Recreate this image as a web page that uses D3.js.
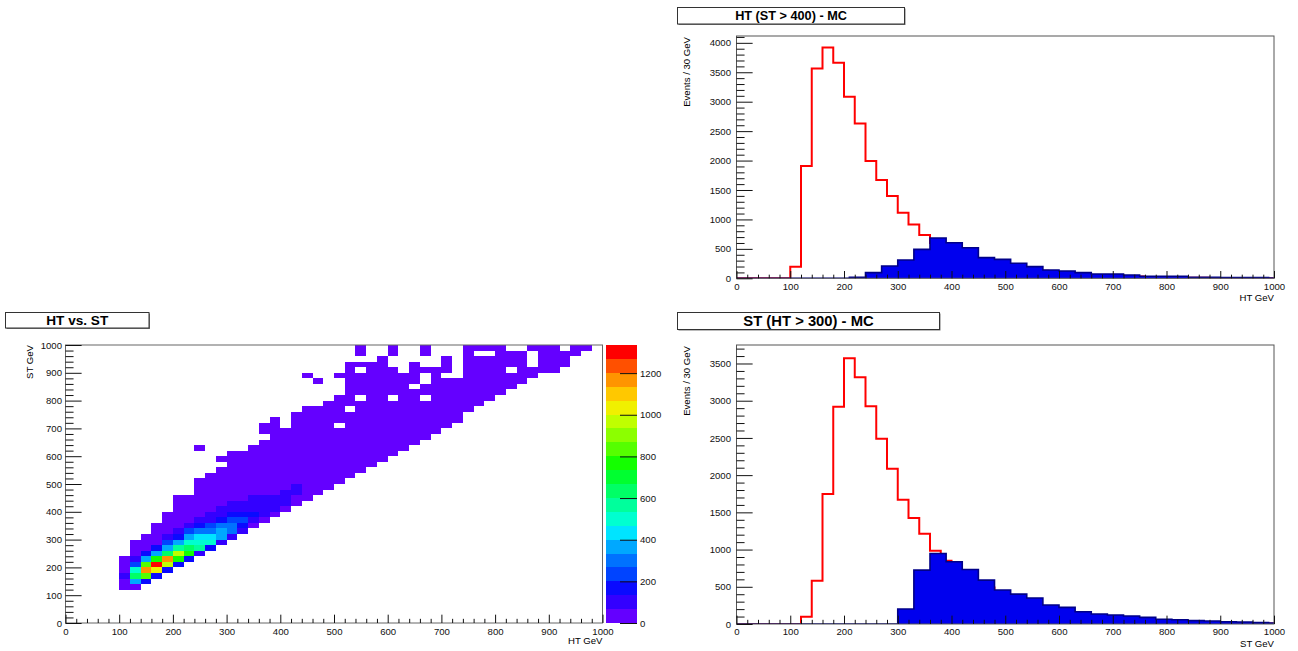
<!DOCTYPE html>
<html>
<head>
<meta charset="utf-8">
<script src="https://cdn.jsdelivr.net/npm/d3@7/dist/d3.min.js"></script>
<style>
  html, body { margin: 0; padding: 0; background: #fff; }
  svg { display: block; }
</style>
</head>
<body>
<svg id="canvas" width="1298" height="651"></svg>
<script>
// ---------------- data ----------------
// HT, all events: 20 GeV bins from 0 to 1000
const htAllBinWidth = 20;
const htAllCounts = [0,0,0,0,0, 198,1906,3563,3920,3660, 3083,2630,1991,1669,1397,
  1114,916,735,600,520, 450,390,330,285,245, 210,180,150,128,108,
  92,78,66,56,48, 40,34,29,24,20, 15,12,10,8,6, 4,3,3,2,2];
// HT with ST > 400: 30 GeV bins from 0
const htCutBinWidth = 30;
const htCutCounts = [0,0,0,0,0,0,0, 17,96,209,311,492,684,605,520,351,322,255,198,141,
  124,96,74,74,57,34,34,34,17,17,11,11,11,6];

// ST, all events: 20 GeV bins
const stAllBinWidth = 20;
const stAllCounts = [0,0,0,0,0,0, 98,581,1747,2918, 3570,3315,2927,2489,2087,
  1671,1425,1211,983,849, 720,640,560,490,420, 360,300,260,220,190,
  160,135,115,100,88, 78,70,62,55,48, 40,35,30,26,22, 18,15,12,10,8];
// ST with HT > 300: 30 GeV bins
const stCutBinWidth = 30;
const stCutCounts = [0,0,0,0,0,0,0,0,0,0, 201,724,947,836,733,590,456,402,349,255,
  223,165,134,121,107,89,63,58,45,40,31,27,18,13];

// HT vs ST map: 20x20 GeV cells. One entry per ST bin, listed from the top
// (ST 980-1000) down to ST 0-20; each entry lists the occupied HT bins.
const mapBinWidth = 20;
const mapRowsTopDown = [
  "27,30,33,37-40,43-45,47-48",
  "27,30,33,37,40-42,44-47",
  "29,35,37-42,44-46",
  "26-29,32,35,37-42,44-46",
  "26,28-30,32-35,37-40,42-45",
  "22,25-32,34,37-43",
  "23,26-32,34-42",
  "26-31,33-41",
  "26-40",
  "25-26,28-29,31-32,34-39",
  "24-38",
  "22-25,27-37",
  "21-36",
  "19,21-36",
  "18-19,21-24,26-35",
  "18-34",
  "19-33",
  "18-32",
  "12,17-31",
  "15-30",
  "14-29",
  "15-28",
  "14-27",
  "13-26",
  "12-25",
  "12-24",
  "12-23",
  "10-22",
  "10-21",
  "10-20",
  "9-19",
  "9-18",
  "8-17",
  "8-16",
  "7-15",
  "6-14",
  "6-13",
  "6-12",
  "5-11",
  "5-10",
  "5-9",
  "5-8",
  "5-7",
  "5-6",
  "", "", "", "", "", ""
];
const mapLowCount = 20;
// denser cells: [HT bin, ST bin, entries]
const mapHotCells = [
  [5,8,100],
  [6,7,370],[6,8,640],[6,9,500],[6,10,230],[6,11,100],
  [7,7,170],[7,8,830],[7,9,1170],[7,10,830],[7,11,370],[7,12,170],
  [8,8,170],[8,9,1030],[8,10,1310],[8,11,770],[8,12,370],[8,13,170],
  [9,9,170],[9,10,970],[9,11,1170],[9,12,640],[9,13,370],[9,14,230],[9,15,100],
  [10,10,170],[10,11,770],[10,12,970],[10,13,570],[10,14,370],[10,15,170],[10,16,100],
  [11,11,170],[11,12,770],[11,13,640],[11,14,500],[11,15,370],[11,16,230],[11,17,100],
  [12,12,100],[12,13,570],[12,14,500],[12,15,430],[12,16,300],[12,17,170],[12,18,100],
  [13,13,170],[13,14,500],[13,15,430],[13,16,300],[13,17,230],[13,18,100],[13,19,100],
  [14,14,100],[14,15,370],[14,16,370],[14,17,300],[14,18,170],[14,19,100],[14,20,100],
  [15,15,100],[15,16,300],[15,17,300],[15,18,230],[15,19,170],[15,20,100],[15,21,100],
  [16,16,100],[16,17,170],[16,18,230],[16,19,170],[16,20,100],[16,21,100],
  [17,18,100],[17,19,170],[17,20,100],[17,21,100],[17,22,100],
  [18,19,100],[18,20,100],[18,21,100],[18,22,100],
  [19,20,100],[19,21,100],[19,22,100],
  [20,21,100],[20,22,100],[20,23,100],
  [21,23,100],[21,24,100]
];
const mapZMax = 1335;
const paletteColours = [
  "#6400ff","#3300ff","#0a0aff","#0044ff","#0072ff","#00a8ff","#00e4ff","#00ffd0",
  "#00ff9c","#00ff66","#00ff30","#14ff00","#55ff00","#8cff00","#c0ff00","#f0f000",
  "#ffc800","#ff9400","#ff5000","#ff0000"
];

const axisRange = [0, 1000];
const xMajorTicks = d3.range(0, 1001, 100);
const xMinorTicks = d3.range(20, 1000, 20).filter(v => v % 100 !== 0);
const htYMajorTicks = d3.range(0, 4001, 500);
const stYMajorTicks = d3.range(0, 3501, 500);
const paletteTicks = d3.range(0, 1201, 200);

// ---------------- drawing ----------------
const FONT = '"Liberation Sans", Arial, Helvetica, sans-serif';
const svg = d3.select('#canvas');
const fmt = d3.format('d');

function titleBox(x, y, w, h, label, size, baseline) {
  const g = svg.append('g');
  g.append('rect').attr('x', x + 1).attr('y', y + 1).attr('width', w).attr('height', h)
    .attr('fill', '#777');
  g.append('rect').attr('x', x).attr('y', y).attr('width', w).attr('height', h)
    .attr('fill', '#fff').attr('stroke', '#333').attr('stroke-width', 1);
  g.append('text').attr('x', x + w / 2).attr('y', baseline).attr('text-anchor', 'middle')
    .attr('font-family', FONT).attr('font-weight', 'bold').attr('font-size', size)
    .attr('fill', '#000').text(label);
}

function xAxisAt(x, yPix, tickLen, pad, size) {
  svg.append('g').attr('transform', `translate(0,${yPix})`)
    .call(d3.axisBottom(x).tickValues(xMinorTicks).tickSize(-tickLen / 2).tickFormat(''))
    .call(g => g.select('.domain').remove())
    .attr('color', '#111');
  svg.append('g').attr('transform', `translate(0,${yPix})`)
    .call(d3.axisBottom(x).tickValues(xMajorTicks).tickSize(-tickLen).tickPadding(pad).tickFormat(fmt))
    .call(g => g.select('.domain').remove())
    .attr('font-family', FONT).attr('font-size', size).attr('color', '#111');
}

function yAxisAt(y, xPix, majors, minors, tickLen, pad, size) {
  svg.append('g').attr('transform', `translate(${xPix},0)`)
    .call(d3.axisLeft(y).tickValues(minors).tickSize(-tickLen / 2).tickFormat(''))
    .call(g => g.select('.domain').remove())
    .attr('color', '#111');
  svg.append('g').attr('transform', `translate(${xPix},0)`)
    .call(d3.axisLeft(y).tickValues(majors).tickSize(-tickLen).tickPadding(pad).tickFormat(fmt))
    .call(g => g.select('.domain').remove())
    .attr('font-family', FONT).attr('font-size', size).attr('color', '#111');
}

function axisTitle(x, y, label, rotate) {
  const t = svg.append('text').attr('font-family', FONT).attr('font-size', 9.6)
    .attr('text-anchor', 'end').attr('fill', '#000').text(label);
  if (rotate) t.attr('transform', `translate(${x},${y}) rotate(-90)`);
  else t.attr('x', x).attr('y', y);
}

function stepPoints(counts, width, x, y) {
  const pts = [];
  counts.forEach((c, k) => {
    pts.push([x(k * width), y(c)]);
    pts.push([x((k + 1) * width), y(c)]);
  });
  return pts;
}

let clipId = 0;
function histPad(frame, allCounts, allWidth, cutCounts, cutWidth, yTicks, xTitle) {
  const x = d3.scaleLinear().domain(axisRange).range([frame.left, frame.right]);
  const yMax = 1.05 * d3.max(allCounts);
  const y = d3.scaleLinear().domain([0, yMax]).range([frame.bottom, frame.top]);
  const id = 'clip' + (clipId++);
  svg.append('clipPath').attr('id', id).append('rect')
    .attr('x', frame.left).attr('y', frame.top)
    .attr('width', frame.right - frame.left).attr('height', frame.bottom - frame.top);
  const g = svg.append('g').attr('clip-path', `url(#${id})`);

  g.append('path').attr('d', d3.line()(stepPoints(allCounts, allWidth, x, y)))
    .attr('fill', 'none').attr('stroke', '#ff0000').attr('stroke-width', 2);

  const cutPts = stepPoints(cutCounts, cutWidth, x, y);
  g.append('path')
    .attr('d', d3.area().x(p => p[0]).y0(y(0) + 1).y1(p => p[1])(cutPts))
    .attr('fill', '#0000ee');
  g.append('path').attr('d', d3.line()(cutPts))
    .attr('fill', 'none').attr('stroke', '#000088').attr('stroke-width', 1.6);

  svg.append('rect').attr('x', frame.left).attr('y', frame.top)
    .attr('width', frame.right - frame.left).attr('height', frame.bottom - frame.top)
    .attr('fill', 'none').attr('stroke', '#555').attr('stroke-width', 1);

  const minorY = d3.range(0, yMax, 100).filter(v => v % 500 !== 0);
  xAxisAt(x, frame.bottom, 0.03 * (frame.bottom - frame.top), 4.5, 9.6);
  yAxisAt(y, frame.left, yTicks, minorY, 0.03 * (frame.right - frame.left), 5.5, 9.6);
  axisTitle(frame.right, frame.bottom + 22.5, xTitle, false);
  axisTitle(689.5, frame.top + 1, 'Events / 30 GeV', true);
}

// top right: HT
titleBox(677.5, 7.5, 227, 16.5, 'HT (ST > 400) - MC', 12.7, 20);
histPad({ left: 736.5, right: 1274, top: 36, bottom: 278.3 },
  htAllCounts, htAllBinWidth, htCutCounts, htCutBinWidth, htYMajorTicks, 'HT GeV');

// bottom right: ST
titleBox(677.5, 312.5, 262, 17, 'ST (HT > 300) - MC', 14.8, 326);
histPad({ left: 736.5, right: 1274, top: 345, bottom: 624 },
  stAllCounts, stAllBinWidth, stCutCounts, stCutBinWidth, stYMajorTicks, 'ST GeV');

// bottom left: HT vs ST map with colour palette
titleBox(5.5, 312.5, 143.5, 15.5, 'HT vs. ST', 13.6, 325);
(function () {
  const frame = { left: 65.5, right: 602.5, top: 345, bottom: 623 };
  const x = d3.scaleLinear().domain(axisRange).range([frame.left, frame.right]);
  const y = d3.scaleLinear().domain(axisRange).range([frame.bottom, frame.top]);
  const z = d3.scaleLinear().domain([0, mapZMax]).range([frame.bottom, frame.top]);
  const nLevels = paletteColours.length;
  const level = c => Math.min(nLevels - 1, Math.floor(c / mapZMax * nLevels));

  const nRows = mapRowsTopDown.length;
  const cellIndex = new Map();
  const cells = [];
  mapRowsTopDown.forEach((spec, r) => {
    const j = nRows - 1 - r;
    if (!spec) return;
    spec.split(',').forEach(part => {
      const [a, b] = part.split('-').map(Number);
      for (let i = a; i <= (b === undefined ? a : b); i++) {
        const cell = { i, j, count: mapLowCount };
        cellIndex.set(i + ':' + j, cell);
        cells.push(cell);
      }
    });
  });
  mapHotCells.forEach(([i, j, c]) => {
    const cell = cellIndex.get(i + ':' + j);
    if (cell) cell.count = c; else cells.push({ i, j, count: c });
  });

  svg.append('g').selectAll('rect').data(cells).join('rect')
    .attr('x', d => x(d.i * mapBinWidth))
    .attr('y', d => y((d.j + 1) * mapBinWidth))
    .attr('width', d => x((d.i + 1) * mapBinWidth) - x(d.i * mapBinWidth))
    .attr('height', d => y(d.j * mapBinWidth) - y((d.j + 1) * mapBinWidth))
    .attr('fill', d => paletteColours[level(d.count)])
    .attr('shape-rendering', 'crispEdges');

  svg.append('rect').attr('x', frame.left).attr('y', frame.top)
    .attr('width', frame.right - frame.left).attr('height', frame.bottom - frame.top)
    .attr('fill', 'none').attr('stroke', '#666').attr('stroke-width', 1);

  xAxisAt(x, frame.bottom, 0.03 * (frame.bottom - frame.top), 5, 9.6);
  const yMinor = d3.range(20, 1000, 20).filter(v => v % 100 !== 0);
  yAxisAt(y, frame.left, xMajorTicks, yMinor, 0.03 * (frame.right - frame.left), 3.5, 9.6);
  axisTitle(frame.right, 644, 'HT GeV', false);
  axisTitle(33, frame.top, 'ST GeV', true);

  // palette
  const pal = { left: 606, right: 637 };
  const step = mapZMax / nLevels;
  svg.append('g').selectAll('rect').data(paletteColours).join('rect')
    .attr('x', pal.left).attr('width', pal.right - pal.left)
    .attr('y', (c, k) => z((k + 1) * step))
    .attr('height', (c, k) => z(k * step) - z((k + 1) * step))
    .attr('fill', c => c).attr('shape-rendering', 'crispEdges');
  svg.append('g').attr('transform', `translate(${pal.right},0)`)
    .call(d3.axisRight(z).tickValues(paletteTicks).tickSize(-17).tickPadding(3).tickFormat(fmt))
    .call(g => g.select('.domain').remove())
    .attr('font-family', FONT).attr('font-size', 9.6).attr('color', '#111');
})();
</script>
</body>
</html>
